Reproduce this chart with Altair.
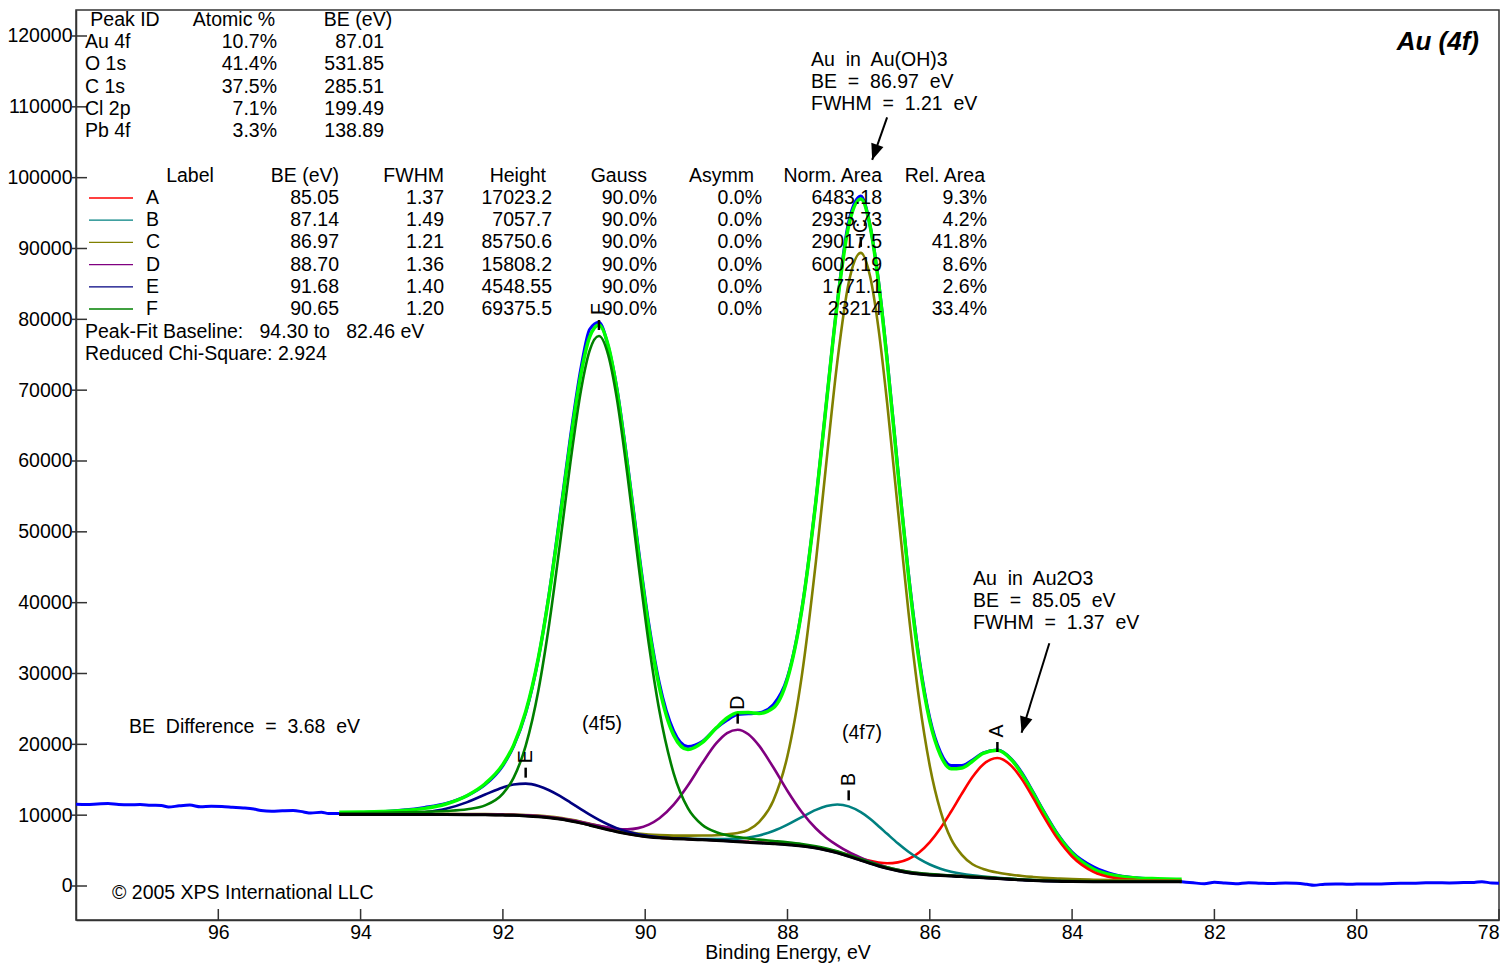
import altair as alt
import pandas as pd

FONT = "Liberation Sans, Arial, Helvetica, sans-serif"
N = "\u00a0"

# ---------------- data ----------------
grid_be = [94.3, 94.0, 93.7, 93.4, 93.1, 92.8, 92.5, 92.25, 92.0, 91.85, 91.68, 91.5, 91.35, 91.2,
           91.05, 90.9, 90.78, 90.65, 90.52, 90.4, 90.25, 90.1, 89.95, 89.8, 89.6, 89.4, 89.2, 89.0,
           88.85, 88.7, 88.55, 88.4, 88.2, 88.0, 87.8, 87.6, 87.45, 87.3, 87.14, 86.97, 86.84, 86.72,
           86.6, 86.45, 86.3, 86.15, 86.0, 85.85, 85.7, 85.55, 85.4, 85.25, 85.05, 84.85, 84.7, 84.55,
           84.4, 84.2, 84.0, 83.7, 83.4, 83.1, 82.8, 82.46]

baseline = [10090, 10090, 10090, 10089, 10088, 10084, 10071, 10047, 10008, 9973, 9897, 9785, 9645, 9452,
            9187, 8877, 8588, 8267, 7950, 7663, 7362, 7110, 6931, 6801, 6686, 6603, 6520, 6429,
            6346, 6258, 6169, 6081, 5963, 5825, 5639, 5356, 5051, 4676, 4184, 3626, 3202, 2823,
            2487, 2143, 1885, 1695, 1568, 1473, 1396, 1325, 1252, 1165, 1044, 924, 842, 772,
            716, 663, 631, 609, 603, 601, 600, 600]

comp_A = [10099, 10100, 10100, 10100, 10100, 10098, 10086, 10062, 10025, 9990, 9915, 9804, 9665, 9473,
          9209, 8899, 8611, 8290, 7976, 7690, 7391, 7141, 6963, 6835, 6723, 6646, 6566, 6478,
          6400, 6316, 6232, 6147, 6040, 5912, 5738, 5472, 5182, 4833, 4375, 3885, 3553, 3323,
          3214, 3336, 3812, 4737, 6202, 8153, 10515, 13022, 15391, 17167, 18067, 16926, 14981, 12469,
          9835, 6623, 4162, 2005, 1138, 848, 757, 711]

comp_B = [10098, 10098, 10099, 10099, 10099, 10096, 10084, 10062, 10024, 9991, 9916, 9805, 9666, 9475,
          9212, 8904, 8616, 8297, 7982, 7698, 7401, 7152, 6978, 6853, 6750, 6684, 6635, 6615,
          6621, 6687, 6856, 7138, 7764, 8655, 9721, 10740, 11282, 11500, 11242, 10416, 9488, 8449,
          7365, 6031, 4829, 3825, 3037, 2447, 2026, 1725, 1508, 1334, 1151, 1002, 907, 827,
          765, 706, 669, 641, 630, 624, 620, 618]

comp_C = [10150, 10154, 10159, 10166, 10174, 10178, 10174, 10158, 10128, 10102, 10034, 9931, 9808, 9623,
          9367, 9074, 8802, 8490, 8190, 7920, 7645, 7419, 7265, 7178, 7115, 7109, 7129, 7175,
          7289, 7476, 7935, 9031, 12051, 18387, 29598, 45864, 60163, 73989, 85150, 89377, 86107, 78627,
          68241, 53301, 38707, 26348, 16951, 10614, 6610, 4403, 3070, 2408, 1893, 1584, 1408, 1278,
          1170, 1057, 965, 892, 843, 807, 780, 754]

comp_D = [10112, 10115, 10118, 10121, 10126, 10127, 10120, 10104, 10071, 10044, 9974, 9875, 9743, 9564,
          9313, 9027, 8767, 8491, 8247, 8079, 8007, 8169, 8668, 9563, 11490, 14195, 17315, 20160,
          21596, 22066, 21419, 19812, 16758, 13417, 10443, 8118, 6788, 5735, 4799, 4005, 3471, 3030,
          2661, 2285, 2005, 1801, 1663, 1560, 1473, 1396, 1315, 1223, 1096, 971, 886, 815,
          756, 699, 663, 637, 628, 623, 621, 617]

comp_E = [10120, 10131, 10153, 10218, 10418, 10906, 11845, 12907, 13920, 14326, 14446, 14116, 13522, 12715,
          11774, 10814, 10062, 9325, 8683, 8173, 7681, 7304, 7055, 6887, 6741, 6645, 6554, 6458,
          6372, 6282, 6191, 6101, 5980, 5841, 5653, 5369, 5063, 4687, 4194, 3635, 3210, 2831,
          2494, 2150, 1891, 1701, 1573, 1478, 1401, 1329, 1256, 1169, 1048, 927, 845, 775,
          719, 666, 633, 611, 605, 603, 602, 602]

comp_F = [10277, 10305, 10347, 10408, 10483, 10597, 10834, 11379, 13040, 15266, 19790, 27677, 36951, 48136,
          59880, 70130, 75612, 77643, 74974, 68916, 58055, 45794, 34237, 24693, 15913, 10995, 8643, 7588,
          7165, 6910, 6703, 6546, 6358, 6165, 5930, 5613, 5287, 4891, 4378, 3806, 3369, 2983,
          2633, 2282, 2017, 1820, 1679, 1577, 1493, 1415, 1335, 1248, 1120, 1000, 911, 841,
          778, 718, 686, 658, 652, 643, 642, 635]

envelope = [10406, 10453, 10526, 10667, 10960, 11582, 12788, 14437, 17168, 19854, 24590, 32283, 41130, 51726,
            62820, 72463, 77530, 79201, 76302, 70161, 59370, 47429, 36511, 28004, 21302, 19259, 20242, 22329,
            23713, 24447, 24491, 24370, 25136, 29252, 38888, 54396, 68510, 82255, 93218, 96994, 93188, 85128,
            74173, 58670, 43836, 31757, 23265, 18464, 16538, 16665, 17615, 18724, 19155, 17790, 15728, 13145,
            10443, 7154, 4623, 2399, 1481, 1143, 1022, 937]

raw_be = [98.0, 97.85, 97.7, 97.55, 97.4, 97.25, 97.1, 96.95, 96.8, 96.7, 96.55, 96.4, 96.25, 96.1,
          95.95, 95.8, 95.65, 95.5, 95.4, 95.25, 95.1, 94.95, 94.8, 94.7, 94.55, 94.45,
          94.3, 94.0, 93.7, 93.4, 93.1, 92.8, 92.5, 92.25, 92.0, 91.85, 91.68, 91.5, 91.35, 91.2,
          91.05, 90.9, 90.78, 90.65, 90.52, 90.4, 90.25, 90.1, 89.95, 89.8, 89.6, 89.4, 89.2, 89.0,
          88.85, 88.7, 88.55, 88.4, 88.2, 88.0, 87.8, 87.6, 87.45, 87.3, 87.14, 86.97, 86.84, 86.72,
          86.6, 86.45, 86.3, 86.15, 86.0, 85.85, 85.7, 85.55, 85.4, 85.25, 85.05, 84.85, 84.7, 84.55,
          84.4, 84.2, 84.0, 83.7, 83.4, 83.1, 82.8, 82.46,
          82.3, 82.14, 82.0, 81.85, 81.7, 81.52, 81.35, 81.2, 81.0, 80.85, 80.7, 80.6, 80.45, 80.3,
          80.1, 79.9, 79.7, 79.5, 79.3, 79.1, 78.9, 78.7, 78.5, 78.35, 78.24, 78.1, 78.0]

raw_counts = [11550, 11520, 11580, 11640, 11500, 11470, 11490, 11400, 11360, 11150, 11320, 11420, 11180, 11260,
              11220, 11120, 11020, 10860, 10660, 10560, 10620, 10660, 10450, 10300, 10420, 10230,
              10250, 10380, 10480, 10720, 11100, 11650, 12750, 14300, 17000, 19700, 24400, 32200, 41300, 52200,
              63500, 73300, 78600, 79600, 76200, 70400, 59800, 48000, 37100, 28600, 21900, 19700, 20400, 22300,
              23400, 24200, 24300, 24450, 25600, 29500, 39000, 54500, 68600, 82400, 93800, 97400, 93300, 85400,
              74500, 59000, 44200, 32200, 23700, 18900, 17000, 17000, 17800, 18800, 19200, 17900, 15900, 13300,
              10600, 7300, 4800, 2700, 1600, 1150, 900, 600,
              450, 330, 520, 420, 320, 470, 400, 360, 420, 380, 240, 120, 260, 300,
              250, 300, 280, 360, 380, 420, 470, 440, 480, 500, 600, 420, 400]

# peak table
peak_names = ["A", "B", "C", "D", "E", "F"]
peak_be_text = ["85.05", "87.14", "86.97", "88.70", "91.68", "90.65"]
peak_fwhm_text = ["1.37", "1.49", "1.21", "1.36", "1.40", "1.20"]
peak_height_text = ["17023.2", "7057.7", "85750.6", "15808.2", "4548.55", "69375.5"]
peak_gauss_text = ["90.0%", "90.0%", "90.0%", "90.0%", "90.0%", "90.0%"]
peak_asymm_text = ["0.0%", "0.0%", "0.0%", "0.0%", "0.0%", "0.0%"]
peak_norm_area_text = ["6483.18", "2935.73", "29017.5", "6002.19", "1771.1", "23214"]
peak_rel_area_text = ["9.3%", "4.2%", "41.8%", "8.6%", "2.6%", "33.4%"]
peak_top = [18067, 11242, 89377, 22066, 14446, 77643]
peak_colors = ["#ff0000", "#008080", "#808000", "#800080", "#000080", "#008000"]

# element table
elem_ids = ["Au 4f", "O 1s", "C 1s", "Cl 2p", "Pb 4f"]
elem_atomic = ["10.7%", "41.4%", "37.5%", "7.1%", "3.3%"]
elem_be = ["87.01", "531.85", "285.51", "199.49", "138.89"]

x_ticks = [96, 94, 92, 90, 88, 86, 84, 82, 80, 78]
y_ticks = [0, 10000, 20000, 30000, 40000, 50000, 60000, 70000, 80000, 90000, 100000, 110000, 120000]

# arrows (start -> tip, in data units)
arrow_be0 = [86.60, 84.32]
arrow_val0 = [108500, 34260]
arrow_be1 = [86.81, 84.71]
arrow_val1 = [102500, 21640]
arrow_angle = [19, 17]

# ---------------- layout ----------------
W, H = 1423, 910
FS = 19.5
x_scale = alt.Scale(domain=[78, 98], reverse=True, nice=False, zero=False)
y_scale = alt.Scale(domain=[-4800, 123670], nice=False, zero=False)
x_axis = alt.Axis(values=x_ticks, format="d", ticks=False, grid=False, labelFont=FONT,
                  labelFontSize=FS, labelColor="black", labelPadding=3, labelFlush=False,
                  labelAlign=alt.expr("datum.value == 78 ? 'right' : 'center'"),
                  labelOverlap=False, title="Binding Energy, eV", titleFont=FONT,
                  titleFontSize=FS, titleFontWeight="normal", titleColor="black",
                  titlePadding=2, domainColor="#333333", domainWidth=1.5)
y_axis = alt.Axis(values=y_ticks, format="d", ticks=False, grid=False, labelFont=FONT,
                  labelFontSize=FS, labelColor="black", labelPadding=4, labelFlush=False,
                  labelOverlap=False, title="", domainColor="#333333", domainWidth=1.5)
X = alt.X("be:Q", scale=x_scale, axis=x_axis)
Y = alt.Y("val:Q", scale=y_scale, axis=y_axis)
ORDER = alt.Order("be:Q", sort="descending")

raw_df = pd.DataFrame({"be": raw_be, "val": raw_counts})
env_df = pd.DataFrame({"be": grid_be, "val": envelope})
base_df = pd.DataFrame({"be": grid_be, "val": baseline})
rows = []
for name, vals in zip(peak_names, [comp_A, comp_B, comp_C, comp_D, comp_E, comp_F]):
    for b, v in zip(grid_be, vals):
        rows.append({"be": b, "val": v, "series": name})
comp_df = pd.DataFrame(rows)
color_scale = alt.Scale(domain=peak_names, range=peak_colors)

raw_line = alt.Chart(raw_df).mark_line(color="#0000ff", strokeWidth=3, interpolate="monotone").encode(
    x=X, y=Y, order=ORDER)
env_line = alt.Chart(env_df).mark_line(color="#00ff00", strokeWidth=3.5, interpolate="monotone").encode(
    x=X, y=Y, order=ORDER)
comp_lines = alt.Chart(comp_df).mark_line(strokeWidth=2.6, interpolate="monotone").encode(
    x=X, y=Y, order=ORDER, detail="series:N",
    color=alt.Color("series:N", scale=color_scale, legend=None))
base_line = alt.Chart(base_df).mark_line(color="black", strokeWidth=3, interpolate="monotone").encode(
    x=X, y=Y, order=ORDER)

# inward axis ticks
xt_df = pd.DataFrame({"be": x_ticks})
x_tick_rules = alt.Chart(xt_df).mark_rule(color="#333333", strokeWidth=1.5).encode(
    x=X, y=alt.value(H - 11), y2=alt.value(H))
yt_df = pd.DataFrame({"val": y_ticks})
y_tick_rules = alt.Chart(yt_df).mark_rule(color="#333333", strokeWidth=1.5).encode(
    y=Y, x=alt.value(-4), x2=alt.value(11))

# peak markers
pk_df = pd.DataFrame({"be": [float(s) for s in peak_be_text], "top": peak_top, "name": peak_names})
pk_base = alt.Chart(pk_df).transform_calculate(
    lo="datum.top + 850", hi="datum.top + 2260", lab="datum.top + 3800")
pk_ticks = pk_base.mark_rule(color="black", strokeWidth=2.5).encode(
    x=X, y=alt.Y("lo:Q", scale=y_scale, axis=y_axis), y2="hi:Q")
pk_text = pk_base.mark_text(angle=270, align="center", baseline="middle", font=FONT,
                            fontSize=FS, color="black").encode(
    x=X, y=alt.Y("lab:Q", scale=y_scale, axis=y_axis), text="name:N")

# arrows
ar_df = pd.DataFrame({"be": arrow_be0, "val": arrow_val0, "be2": arrow_be1, "val2": arrow_val1,
                      "ang": arrow_angle})
ar_lines = alt.Chart(ar_df).mark_rule(color="black", strokeWidth=2).encode(
    x=X, y=Y, x2="be2:Q", y2="val2:Q")
ar_heads = alt.Chart(ar_df).mark_point(shape="M0,0L-0.8,-2L0.8,-2Z", filled=True, size=256,
                                       color="black", opacity=1, strokeWidth=0).encode(
    x=alt.X("be2:Q", scale=x_scale, axis=x_axis), y=alt.Y("val2:Q", scale=y_scale, axis=y_axis),
    angle=alt.Angle("ang:Q", scale=None))

# ---------------- text (plot-pixel layout) ----------------
left_items, right_items, center_items = [], [], []
# element table
center_items += [(49, 10, "Peak ID"), (158, 10, "Atomic %"), (282, 10, "BE (eV)")]
for i in range(len(elem_ids)):
    yy = 32 + i * 22.3
    left_items.append((9, yy, elem_ids[i]))
    right_items.append((201, yy, elem_atomic[i]))
    right_items.append((308, yy, elem_be[i]))
# peak table
center_items.append((114, 166, "Label"))
for xx, t in [(263, "BE (eV)"), (368, "FWHM"), (470, "Height"), (571, "Gauss"),
              (678, "Asymm"), (806, "Norm. Area"), (909, "Rel. Area")]:
    right_items.append((xx, 166, t))
cols = [(263, peak_be_text), (368, peak_fwhm_text), (476, peak_height_text), (581, peak_gauss_text),
        (686, peak_asymm_text), (806, peak_norm_area_text), (911, peak_rel_area_text)]
sw_rows = []
for i in range(len(peak_names)):
    yy = 188 + i * 22.2
    left_items.append((70, yy, peak_names[i]))
    sw_rows.append({"py": yy, "series": peak_names[i]})
    for xx, arr in cols:
        right_items.append((xx, yy, arr[i]))
left_items.append((9, 321.5, "Peak-Fit Baseline:" + N + N + " 94.30 to" + N + N + " 82.46 eV"))
left_items.append((9, 344, "Reduced Chi-Square: 2.924"))
# annotations
for i, t in enumerate(["Au" + N + " in" + N + " Au(OH)3", "BE" + N + " =" + N + " 86.97" + N + " eV",
                       "FWHM" + N + " =" + N + " 1.21" + N + " eV"]):
    left_items.append((735, 50 + i * 22, t))
for i, t in enumerate(["Au" + N + " in" + N + " Au2O3", "BE" + N + " =" + N + " 85.05" + N + " eV",
                       "FWHM" + N + " =" + N + " 1.37" + N + " eV"]):
    left_items.append((897, 569 + i * 22, t))
left_items.append((53, 717, "BE" + N + " Difference" + N + " =" + N + " 3.68" + N + " eV"))
left_items.append((36, 883, "\u00a9 2005 XPS International LLC"))
center_items += [(526, 714, "(4f5)"), (786, 723, "(4f7)")]


def text_layer(items, align, size=FS, weight="normal", style="normal"):
    df = pd.DataFrame(items, columns=["px", "py", "txt"])
    return alt.Chart(df).mark_text(align=align, baseline="middle", font=FONT, fontSize=size,
                                   fontWeight=weight, fontStyle=style, color="black").encode(
        x=alt.X("px:Q", scale=None, axis=None), y=alt.Y("py:Q", scale=None, axis=None),
        text="txt:N")


t_left = text_layer(left_items, "left")
t_right = text_layer(right_items, "right")
t_center = text_layer(center_items, "center")
t_title = text_layer([(1403, 32, "Au (4f)")], "right", size=26, weight="bold", style="italic")

sw_df = pd.DataFrame(sw_rows)
swatches = alt.Chart(sw_df).mark_rule(strokeWidth=1.3).encode(
    x=alt.value(13), x2=alt.value(57), y=alt.Y("py:Q", scale=None, axis=None),
    color=alt.Color("series:N", scale=color_scale, legend=None))

chart = alt.layer(
    raw_line, env_line, comp_lines, base_line, x_tick_rules, y_tick_rules,
    pk_ticks, pk_text, ar_lines, ar_heads, swatches, t_left, t_right, t_center, t_title
).properties(
    width=W, height=H,
    padding={"left": 68, "top": 2, "right": 5, "bottom": 44},
    autosize=alt.AutoSizeParams(type="none"),
    background="white",
).configure_view(stroke="#333333", strokeWidth=1.5)

chart.save("out.html", embed_options={"renderer": "svg", "actions": False})
